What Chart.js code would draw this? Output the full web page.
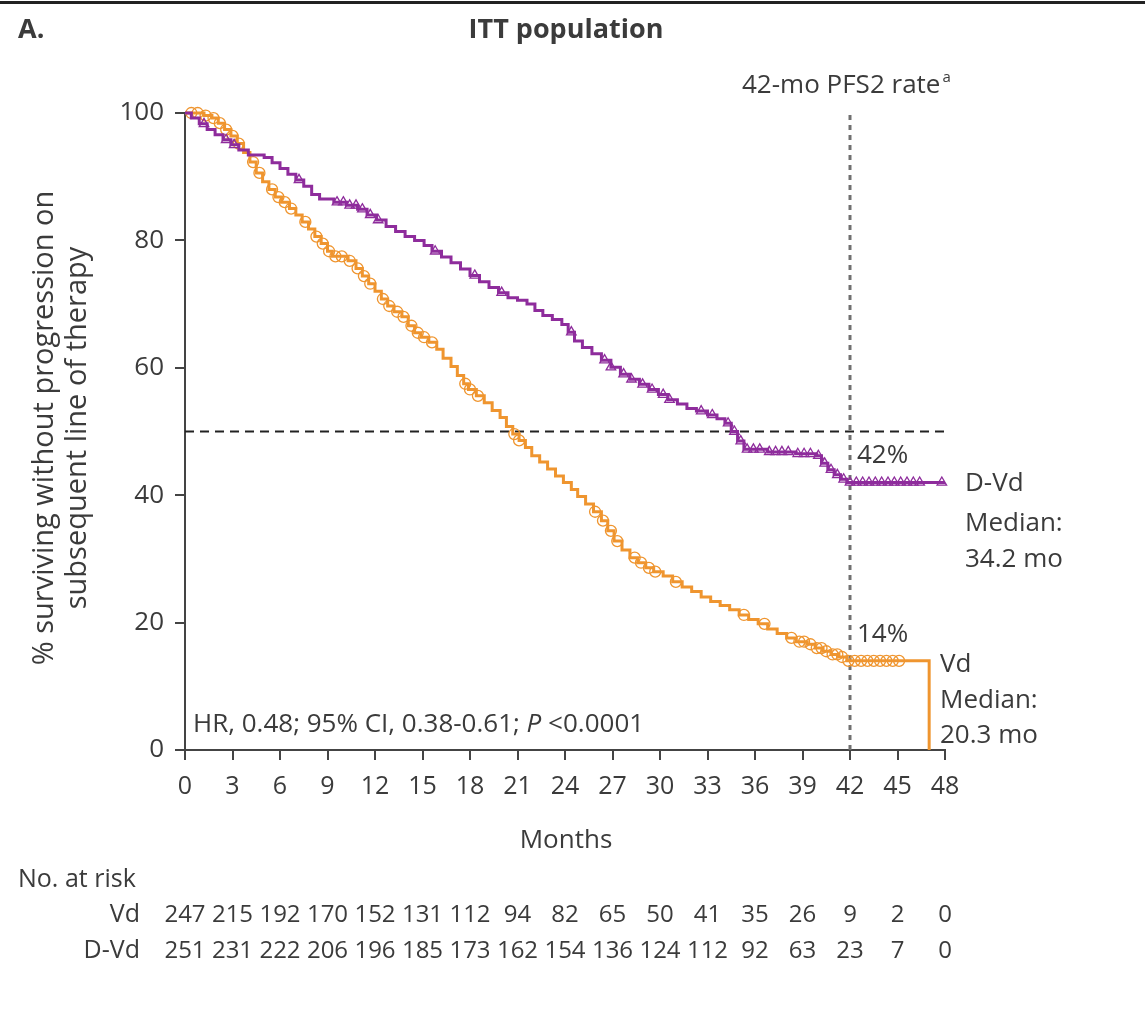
<!DOCTYPE html>
<html>
<head>
<meta charset="utf-8">
<script src="https://cdn.jsdelivr.net/npm/chart.js@4.4.0/dist/chart.umd.min.js"></script>
<style>
  body { margin: 0; background: #fff; }
  canvas { display: block; }
</style>
</head>
<body>
<canvas id="pfs2Chart" width="1145" height="1013"></canvas>
<script>
// Kaplan-Meier PFS2, ITT population (step points: month, % surviving)
const vdMonths = [0, 1.2, 1.7, 2.1, 2.5, 2.9, 3.3, 3.7, 4.1, 4.5, 4.9, 5.3, 5.7, 6.1, 6.6, 7.0, 7.4, 7.8, 8.2, 8.6,
  9.0, 9.3, 10.3, 10.8, 11.2, 11.6, 12.0, 12.4, 12.8, 13.2, 13.7, 14.1, 14.5, 14.9, 15.4, 15.9, 16.3, 16.8, 17.2, 17.6,
  17.9, 18.4, 18.9, 19.4, 19.9, 20.3, 20.7, 21.1, 21.5, 21.9, 22.4, 22.9, 23.4, 23.9, 24.4, 24.8, 25.3, 25.8, 26.3, 26.7,
  27.1, 27.6, 28.1, 28.6, 29.1, 29.6, 30.2, 30.8, 31.4, 32.0, 32.6, 33.2, 33.8, 34.4, 35.0, 35.6, 36.2, 36.8, 37.4, 38.0,
  38.6, 39.3, 39.8, 40.3, 40.8, 41.3, 41.8, 47.0, 47.0];
const vdPct = [100, 99.6, 99.2, 98.4, 97.4, 96.4, 95.2, 93.8, 92.3, 90.6, 89.2, 88.0, 86.8, 86.0, 85.0, 84.0, 82.9, 81.8, 80.6, 79.5,
  78.3, 77.5, 76.8, 75.6, 74.4, 73.2, 72.0, 70.8, 69.7, 68.8, 68.0, 66.6, 65.5, 64.8, 64.0, 62.9, 61.5, 60.2, 58.8, 57.5,
  56.6, 55.6, 54.5, 53.3, 52.2, 50.8, 49.6, 48.6, 47.5, 46.2, 45.2, 44.1, 43.0, 42.0, 40.9, 39.8, 38.6, 37.4, 36.0, 34.4,
  32.8, 31.4, 30.2, 29.4, 28.6, 28.0, 27.3, 26.4, 25.6, 24.9, 24.0, 23.3, 22.7, 22.0, 21.2, 20.5, 19.8, 19.0, 18.3, 17.6,
  17.0, 16.6, 16.0, 15.5, 15.0, 14.6, 14.0, 14.0, 0];

const dvdMonths = [0, 0.4, 0.9, 1.4, 1.9, 2.4, 2.9, 3.4, 4.0, 5.0, 5.5, 6.0, 6.5, 7.0, 7.5, 8.0, 8.5, 9.4, 10.2, 10.9,
  11.5, 12.1, 12.7, 13.3, 13.9, 14.5, 15.1, 15.6, 16.2, 16.8, 17.4, 18.0, 18.6, 19.2, 19.8, 20.4, 21.0, 21.6, 22.1, 22.6,
  23.2, 23.8, 24.2, 24.6, 25.1, 25.7, 26.3, 26.9, 27.5, 28.1, 28.7, 29.3, 29.9, 30.5, 31.1, 31.7, 32.3, 33.0, 33.6, 34.1,
  34.5, 34.9, 35.3, 36.8, 38.6, 39.9, 40.2, 40.6, 41.0, 41.4, 41.8, 48.0];
const dvdPct = [100, 99.2, 98.3, 97.4, 96.6, 95.8, 95.0, 94.2, 93.4, 93.0, 92.2, 91.3, 90.4, 89.5, 88.5, 87.2, 86.5, 86.0, 85.5, 84.9,
  84.0, 83.2, 82.2, 81.4, 80.6, 80.0, 79.2, 78.3, 77.4, 76.5, 75.5, 74.5, 73.5, 72.6, 71.8, 71.0, 70.6, 70.0, 69.0, 68.2,
  67.6, 66.8, 65.6, 64.2, 63.2, 62.2, 61.2, 60.1, 59.0, 58.2, 57.4, 56.6, 55.8, 55.0, 54.3, 53.6, 53.2, 52.6, 52.0, 51.3,
  50.0, 48.5, 47.2, 46.8, 46.5, 46.2, 45.0, 44.0, 43.2, 42.5, 42.0, 42.0];

// censored observations
const vdCensorMonths = [0.4, 0.8, 1.3, 1.8, 2.2, 2.6, 3.0, 3.4, 4.3, 4.7, 5.5, 5.9, 6.3, 6.7, 7.6, 8.3, 8.7, 9.1, 9.5, 9.9,
  10.4, 10.9, 11.3, 11.7, 12.5, 12.9, 13.4, 13.8, 14.3, 14.7, 15.1, 15.6, 17.7, 18.0, 18.5, 20.8, 21.1, 25.9, 26.4, 26.9,
  27.3, 28.4, 28.8, 29.3, 29.7, 31.0, 35.3, 36.6, 38.3, 38.8, 39.1, 39.5, 39.9, 40.2, 40.5, 40.9, 41.2, 41.5, 41.9, 42.3,
  42.7, 43.1, 43.5, 43.9, 44.3, 44.7, 45.1];
const vdCensorPct = [100, 100, 99.6, 99.2, 98.4, 97.4, 96.4, 95.2, 92.3, 90.6, 88.0, 86.8, 86.0, 85.0, 82.9, 80.6, 79.5, 78.3, 77.5, 77.5,
  76.8, 75.6, 74.4, 73.2, 70.8, 69.7, 68.8, 68.0, 66.6, 65.5, 64.8, 64.0, 57.5, 56.6, 55.6, 49.6, 48.6, 37.4, 36.0, 34.4,
  32.8, 30.2, 29.4, 28.6, 28.0, 26.4, 21.2, 19.8, 17.6, 17.0, 17.0, 16.6, 16.0, 16.0, 15.5, 15.0, 15.0, 14.6, 14.0, 14.0,
  14.0, 14.0, 14.0, 14.0, 14.0, 14.0, 14.0];

const dvdCensorMonths = [1.2, 2.6, 3.1, 7.2, 9.6, 10.0, 10.4, 10.8, 11.2, 11.7, 12.2, 15.8, 18.3, 20.0, 24.4, 26.5, 26.9, 27.7, 28.2, 28.9,
  29.5, 30.2, 30.6, 32.6, 33.3, 34.3, 34.7, 35.1, 35.5, 35.9, 36.3, 36.9, 37.3, 37.7, 38.1, 38.7, 39.1, 39.5, 40.0, 40.4,
  40.8, 41.2, 41.6, 42.0, 42.4, 42.8, 43.2, 43.6, 44.0, 44.4, 44.8, 45.2, 45.6, 46.0, 46.4, 47.8];
const dvdCensorPct = [98.3, 95.8, 95.0, 89.5, 86.0, 86.0, 85.5, 85.5, 84.9, 84.0, 83.2, 78.3, 74.5, 71.8, 65.6, 61.2, 60.1, 59.0, 58.2, 57.4,
  56.6, 55.8, 55.0, 53.2, 52.6, 51.3, 50.0, 48.5, 47.2, 47.2, 47.2, 46.8, 46.8, 46.8, 46.8, 46.5, 46.5, 46.5, 46.2, 45.0,
  44.0, 43.2, 42.5, 42.0, 42.0, 42.0, 42.0, 42.0, 42.0, 42.0, 42.0, 42.0, 42.0, 42.0, 42.0, 42.0];

// number at risk
const riskMonths = [0, 3, 6, 9, 12, 15, 18, 21, 24, 27, 30, 33, 36, 39, 42, 45, 48];
const riskVd = [247, 215, 192, 170, 152, 131, 112, 94, 82, 65, 50, 41, 35, 26, 9, 2, 0];
const riskDVd = [251, 231, 222, 206, 196, 185, 173, 162, 154, 136, 124, 112, 92, 63, 23, 7, 0];

const landmarkMonth = 42;
const landmarkVd = 14;
const landmarkDVd = 42;
const medianPct = 50;

const ORANGE = '#ef952f';
const PURPLE = '#8e2c9c';
const INK = '#3b3b3b';
const FONT = '"Open Sans", "Noto Sans", sans-serif';

const pts = (xs, ys) => xs.map((m, i) => ({ x: m, y: ys[i] }));

const annotate = {
  id: 'annotate',
  afterDraw(chart) {
    const { ctx, scales: { x, y } } = chart;
    ctx.save();
    ctx.fillStyle = '#222';
    ctx.fillRect(0, 1, chart.width, 3);

    ctx.fillStyle = INK;
    ctx.textBaseline = 'alphabetic';
    ctx.font = 'bold 27px ' + FONT;
    ctx.textAlign = 'left';
    ctx.fillText('A.', 18, 38);
    ctx.textAlign = 'center';
    ctx.fillText('ITT population', 566, 38);

    ctx.font = '26px ' + FONT;
    ctx.textAlign = 'left';
    const lbl = '42-mo PFS2 rate';
    ctx.fillText(lbl, 742, 93);
    const w = ctx.measureText(lbl).width;
    ctx.font = '15px ' + FONT;
    ctx.fillText('a', 742 + w + 2, 82);

    ctx.font = '26px ' + FONT;
    const lx = x.getPixelForValue(landmarkMonth) + 7;
    ctx.fillText(landmarkDVd + '%', lx, y.getPixelForValue(landmarkDVd) - 19);
    ctx.fillText(landmarkVd + '%', lx, y.getPixelForValue(landmarkVd) - 19);

    ctx.fillText('D-Vd', 965, 491);
    ctx.fillText('Median:', 965, 531);
    ctx.fillText('34.2 mo', 965, 567);
    ctx.fillText('Vd', 940, 672);
    ctx.fillText('Median:', 940, 708);
    ctx.fillText('20.3 mo', 940, 743);

    // HR annotation with italic P
    let hx = 193;
    const hr = 'HR, 0.48; 95% CI, 0.38-0.61; ';
    ctx.fillText(hr, hx, 732);
    hx += ctx.measureText(hr).width;
    ctx.font = 'italic 26px ' + FONT;
    ctx.fillText('P', hx, 732);
    hx += ctx.measureText('P ').width;
    ctx.font = '26px ' + FONT;
    ctx.fillText('<0.0001', hx, 732);

    ctx.textAlign = 'center';
    ctx.fillText('Months', 566, 848);

    // y axis title, two rotated lines
    ctx.save();
    ctx.font = '29px ' + FONT;
    ctx.translate(0, 428);
    ctx.rotate(-Math.PI / 2);
    ctx.fillText('% surviving without progression on', 0, 53);
    ctx.fillText('subsequent line of therapy', 0, 86);
    ctx.restore();

    // at-risk table
    ctx.font = '25px ' + FONT;
    ctx.textAlign = 'left';
    ctx.fillText('No. at risk', 18, 887);
    ctx.textAlign = 'right';
    ctx.fillText('Vd', 140, 922);
    ctx.fillText('D-Vd', 140, 958);
    ctx.textAlign = 'center';
    ctx.font = '24px ' + FONT;
    riskMonths.forEach((m, i) => {
      const px = x.getPixelForValue(m);
      ctx.fillText(String(riskVd[i]), px, 922);
      ctx.fillText(String(riskDVd[i]), px, 958);
    });
    ctx.restore();
  }
};

new Chart(document.getElementById('pfs2Chart'), {
  type: 'line',
  data: {
    datasets: [
      {
        label: 'Vd',
        data: pts(vdMonths, vdPct),
        borderColor: ORANGE,
        borderWidth: 3,
        stepped: 'before',
        pointRadius: 0,
        clip: false,
        order: 2
      },
      {
        label: 'D-Vd',
        data: pts(dvdMonths, dvdPct),
        borderColor: PURPLE,
        borderWidth: 3,
        stepped: 'before',
        pointRadius: 0,
        clip: false,
        order: 1
      },
      {
        label: 'Vd censored',
        data: pts(vdCensorMonths, vdCensorPct),
        showLine: false,
        pointStyle: 'circle',
        pointRadius: 5.5,
        pointBorderWidth: 1.3,
        pointBorderColor: ORANGE,
        pointBackgroundColor: 'rgba(0,0,0,0)',
        clip: false,
        order: 2
      },
      {
        label: 'D-Vd censored',
        data: pts(dvdCensorMonths, dvdCensorPct),
        showLine: false,
        pointStyle: 'triangle',
        pointRadius: 5.5,
        pointBorderWidth: 1.3,
        pointBorderColor: PURPLE,
        pointBackgroundColor: 'rgba(0,0,0,0)',
        clip: false,
        order: 1
      },
      {
        label: 'median',
        data: [{ x: 0, y: medianPct }, { x: 48, y: medianPct }],
        borderColor: '#222',
        borderWidth: 2,
        borderDash: [9, 6],
        pointRadius: 0,
        order: 5
      },
      {
        label: 'landmark',
        data: [{ x: landmarkMonth, y: 0 }, { x: landmarkMonth, y: 100 }],
        borderColor: '#707070',
        borderWidth: 3,
        borderDash: [5, 5],
        pointRadius: 0,
        clip: false,
        order: 5
      }
    ]
  },
  options: {
    responsive: false,
    animation: false,
    events: [],
    layout: { padding: { left: 0, right: 200, top: 113, bottom: 203 } },
    plugins: {
      legend: { display: false },
      tooltip: { enabled: false }
    },
    scales: {
      x: {
        type: 'linear',
        min: 0,
        max: 48,
        afterFit: s => { s.height = 60; },
        border: { display: true, color: '#444', width: 2 },
        grid: { drawOnChartArea: false, drawTicks: true, tickLength: 10, color: '#444', lineWidth: 2 },
        ticks: { stepSize: 3, color: INK, padding: 12, maxRotation: 0, autoSkip: false, font: { family: FONT, size: 25 } }
      },
      y: {
        min: 0,
        max: 100,
        afterFit: s => { s.width = 185; },
        border: { display: true, color: '#444', width: 2 },
        grid: { drawOnChartArea: false, drawTicks: true, tickLength: 10, color: '#444', lineWidth: 2 },
        ticks: { stepSize: 20, color: INK, padding: 11, font: { family: FONT, size: 26 } }
      }
    }
  },
  plugins: [annotate]
});
</script>
</body>
</html>
